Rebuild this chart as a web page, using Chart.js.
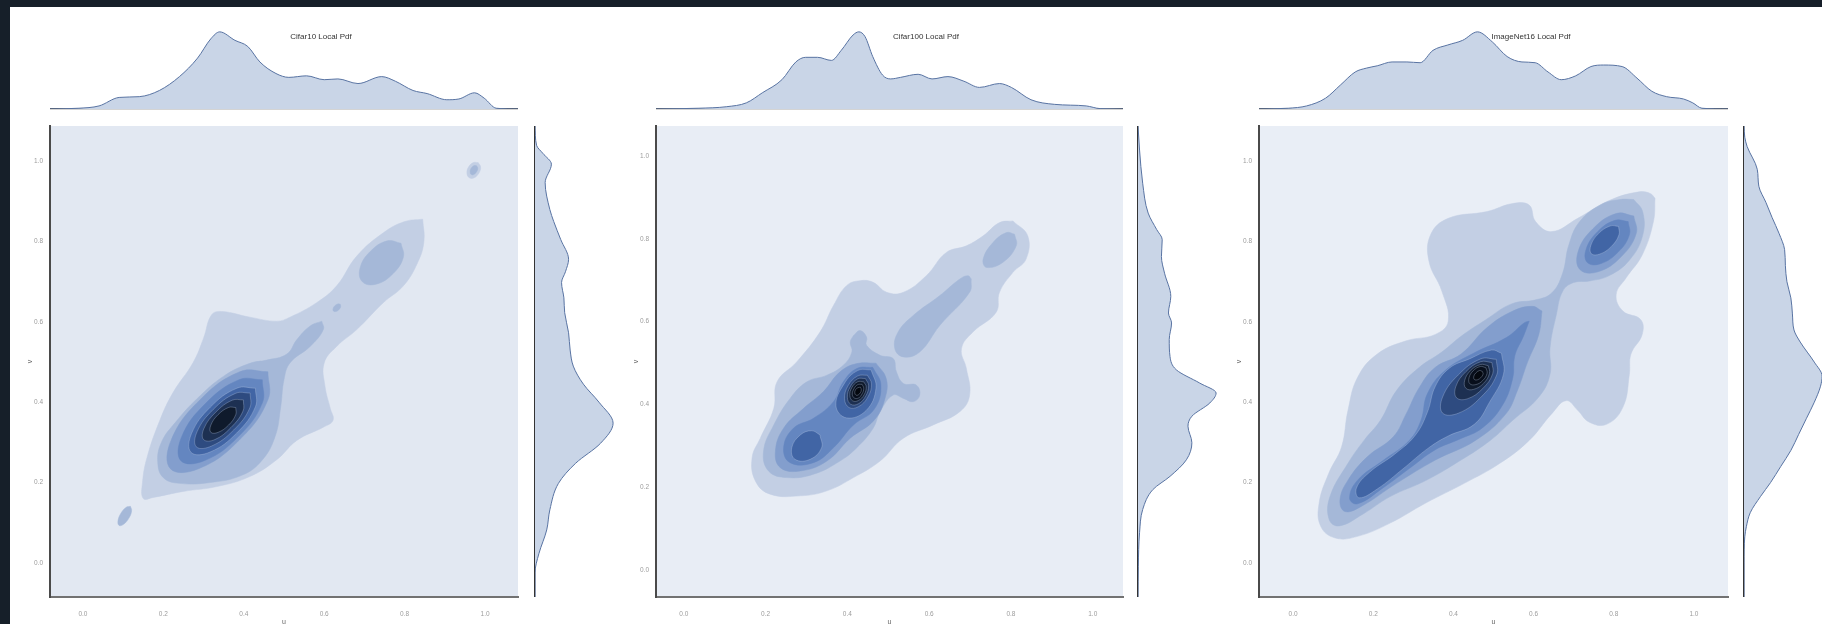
<!DOCTYPE html>
<html lang="en">
<head>
<meta charset="utf-8">
<title>Local Pdf</title>
<script src="https://cdn.jsdelivr.net/npm/chart.js@4.4.1/dist/chart.umd.min.js"></script>
<style>
  html, body { margin: 0; padding: 0; }
  body { position: relative; width: 1822px; height: 624px; overflow: hidden; background: #161f29;
         font-family: "Liberation Sans", Arial, sans-serif; }
  #sheet { position: absolute; left: 10px; top: 7px; right: 0; bottom: 0; background: #ffffff; }
  canvas { position: absolute; display: block; }
  .title { position: absolute; top: 37px; transform: translate(-50%, -50%); font-size: 8px; line-height: 1;
           color: #333; white-space: nowrap; z-index: 5; }
</style>
</head>
<body>
<div id="sheet"></div>
<script>
// ---------- shared axis values ----------
const tickValues = [0, 0.2, 0.4, 0.6, 0.8, 1.0];
const tickLabels = ['0.0', '0.2', '0.4', '0.6', '0.8', '1.0'];
const axisNames = ['u', 'v'];

// ---------- Cifar10 ----------
const cifar10Title = 'Cifar10 Local Pdf';
const cifar10URange = [-0.082, 1.082];
const cifar10VRange = [-0.085, 1.088];
// marginal density of u: [u, relative density]
const cifar10TopPdf = [[-0.082,0],[-0.01,0.01],[0.04,0.04],[0.09,0.15],[0.14,0.16],[0.19,0.24],[0.24,0.42],[0.285,0.66],[0.318,0.91],[0.340,1.0],[0.378,0.89],[0.410,0.81],[0.440,0.61],[0.480,0.46],[0.512,0.41],[0.556,0.43],[0.60,0.38],[0.634,0.39],[0.684,0.33],[0.743,0.42],[0.777,0.36],[0.821,0.24],[0.856,0.20],[0.905,0.12],[0.935,0.13],[0.974,0.21],[0.998,0.14],[1.028,0.01],[1.082,0]];
// marginal density of v: [v, relative density]
const cifar10RightPdf = [[-0.085,0],[-0.025,0],[0.023,0.05],[0.082,0.15],[0.132,0.19],[0.198,0.30],[0.248,0.52],[0.298,0.84],[0.348,1.0],[0.40,0.82],[0.445,0.62],[0.49,0.49],[0.53,0.45],[0.573,0.43],[0.623,0.38],[0.66,0.37],[0.698,0.34],[0.725,0.39],[0.756,0.43],[0.805,0.33],[0.85,0.24],[0.88,0.19],[0.947,0.13],[0.993,0.21],[1.02,0.10],[1.04,0.02],[1.088,0]];
// filled density contours: [level, [[u, v], ...]]
const cifar10Rings = [
  [1, [[0.845,0.856],[0.848,0.800],[0.832,0.747],[0.797,0.690],[0.747,0.648],[0.681,0.581],[0.631,0.539],[0.600,0.498],[0.602,0.440],[0.615,0.385],[0.622,0.355],[0.598,0.338],[0.532,0.305],[0.482,0.257],[0.415,0.215],[0.333,0.190],[0.250,0.178],[0.175,0.163],[0.150,0.160],[0.148,0.200],[0.160,0.265],[0.192,0.357],[0.224,0.424],[0.274,0.499],[0.300,0.560],[0.320,0.618],[0.345,0.626],[0.415,0.612],[0.482,0.602],[0.515,0.612],[0.581,0.648],[0.631,0.690],[0.681,0.764],[0.747,0.822],[0.800,0.850]]],
  [1, [[0.983,0.997],[0.971,0.997],[0.959,0.986],[0.955,0.970],[0.961,0.959],[0.973,0.959],[0.985,0.971],[0.989,0.986]]],
  [2, [[0.594,0.602],[0.598,0.581],[0.565,0.539],[0.515,0.498],[0.500,0.456],[0.492,0.390],[0.478,0.315],[0.445,0.255],[0.395,0.218],[0.316,0.200],[0.240,0.198],[0.200,0.212],[0.186,0.250],[0.195,0.300],[0.230,0.350],[0.285,0.410],[0.350,0.465],[0.415,0.497],[0.457,0.505],[0.507,0.520],[0.532,0.556],[0.565,0.590]]],
  [2, [[0.791,0.796],[0.757,0.802],[0.715,0.776],[0.689,0.734],[0.695,0.700],[0.729,0.694],[0.771,0.720],[0.797,0.762]]],
  [2, [[0.640,0.644],[0.634,0.645],[0.626,0.640],[0.622,0.633],[0.623,0.627],[0.629,0.626],[0.636,0.630],[0.641,0.638]]],
  [2, [[0.118,0.141],[0.107,0.138],[0.094,0.123],[0.087,0.104],[0.090,0.093],[0.101,0.096],[0.114,0.111],[0.121,0.130]]],
  [2, [[0.979,0.989],[0.972,0.989],[0.965,0.982],[0.963,0.973],[0.966,0.967],[0.972,0.967],[0.979,0.974],[0.982,0.983]]],
  [3, [[0.460,0.476],[0.390,0.476],[0.290,0.405],[0.219,0.305],[0.218,0.234],[0.289,0.235],[0.389,0.306],[0.460,0.406]]],
  [4, [[0.446,0.456],[0.388,0.456],[0.304,0.396],[0.245,0.313],[0.244,0.254],[0.303,0.255],[0.386,0.314],[0.446,0.398]]],
  [5, [[0.429,0.435],[0.383,0.435],[0.317,0.388],[0.270,0.322],[0.269,0.275],[0.316,0.276],[0.382,0.323],[0.429,0.389]]],
  [6, [[0.416,0.423],[0.379,0.422],[0.324,0.382],[0.284,0.327],[0.282,0.289],[0.320,0.291],[0.375,0.331],[0.415,0.386]]],
  [7, [[0.399,0.406],[0.371,0.405],[0.330,0.375],[0.301,0.335],[0.300,0.307],[0.328,0.307],[0.368,0.337],[0.398,0.378]]],
  [8, [[0.380,0.387],[0.362,0.387],[0.336,0.369],[0.318,0.343],[0.318,0.325],[0.336,0.325],[0.362,0.343],[0.380,0.369]]]
];

// ---------- Cifar100 ----------
const cifar100Title = 'Cifar100 Local Pdf';
const cifar100URange = [-0.068, 1.074];
const cifar100VRange = [-0.064, 1.072];
const cifar100TopPdf = [[-0.068,0],[0.037,0.01],[0.105,0.03],[0.153,0.08],[0.192,0.21],[0.24,0.38],[0.274,0.61],[0.298,0.67],[0.327,0.67],[0.361,0.63],[0.385,0.76],[0.414,0.96],[0.428,1.0],[0.443,0.94],[0.462,0.68],[0.486,0.44],[0.506,0.39],[0.53,0.41],[0.573,0.45],[0.607,0.39],[0.646,0.42],[0.685,0.36],[0.723,0.28],[0.772,0.33],[0.801,0.28],[0.849,0.12],[0.907,0.06],[0.984,0.04],[1.018,0.005],[1.074,0]];
const cifar100RightPdf = [[-0.064,0],[0.01,0.004],[0.091,0.02],[0.147,0.06],[0.195,0.19],[0.227,0.41],[0.267,0.62],[0.308,0.69],[0.348,0.64],[0.372,0.69],[0.404,0.92],[0.428,1.0],[0.452,0.79],[0.484,0.49],[0.516,0.41],[0.557,0.40],[0.597,0.43],[0.621,0.39],[0.661,0.42],[0.717,0.34],[0.757,0.30],[0.798,0.31],[0.822,0.24],[0.862,0.13],[0.934,0.06],[1.014,0.02],[1.072,0]];
const cifar100Rings = [
  [1, [[0.805,0.843],[0.841,0.807],[0.837,0.751],[0.805,0.719],[0.772,0.671],[0.764,0.623],[0.707,0.575],[0.679,0.535],[0.691,0.487],[0.699,0.423],[0.675,0.383],[0.610,0.351],[0.537,0.319],[0.480,0.264],[0.415,0.224],[0.350,0.192],[0.285,0.180],[0.211,0.184],[0.175,0.216],[0.167,0.272],[0.187,0.319],[0.220,0.391],[0.228,0.455],[0.276,0.503],[0.333,0.575],[0.366,0.639],[0.398,0.687],[0.431,0.699],[0.463,0.695],[0.496,0.671],[0.537,0.671],[0.593,0.711],[0.642,0.767],[0.691,0.783],[0.732,0.807],[0.772,0.839]]],
  [2, [[0.809,0.811],[0.813,0.783],[0.780,0.743],[0.740,0.731],[0.732,0.751],[0.756,0.791],[0.789,0.815]]],
  [2, [[0.703,0.703],[0.699,0.671],[0.626,0.591],[0.577,0.527],[0.537,0.515],[0.516,0.535],[0.524,0.575],[0.561,0.615],[0.626,0.663],[0.675,0.703],[0.695,0.711]]],
  [2, [[0.415,0.567],[0.431,0.579],[0.447,0.563],[0.447,0.543],[0.480,0.519],[0.512,0.511],[0.520,0.479],[0.537,0.451],[0.569,0.447],[0.577,0.423],[0.561,0.407],[0.537,0.415],[0.512,0.423],[0.480,0.383],[0.463,0.343],[0.423,0.296],[0.382,0.264],[0.317,0.232],[0.252,0.224],[0.207,0.240],[0.195,0.288],[0.220,0.351],[0.260,0.415],[0.301,0.455],[0.350,0.471],[0.390,0.495],[0.411,0.527],[0.407,0.551]]],
  [3, [[0.470,0.500],[0.495,0.463],[0.492,0.415],[0.465,0.362],[0.407,0.319],[0.350,0.264],[0.285,0.240],[0.236,0.248],[0.224,0.288],[0.244,0.343],[0.293,0.391],[0.341,0.431],[0.382,0.479],[0.423,0.499]]],
  [4, [[0.462,0.490],[0.482,0.447],[0.465,0.388],[0.415,0.351],[0.366,0.296],[0.317,0.260],[0.260,0.260],[0.244,0.296],[0.268,0.343],[0.317,0.367],[0.366,0.407],[0.390,0.455],[0.423,0.487]]],
  [5, [[0.333,0.327],[0.337,0.296],[0.309,0.268],[0.272,0.268],[0.264,0.296],[0.285,0.327],[0.313,0.337]]],
  [5, [[0.458,0.484],[0.470,0.440],[0.446,0.386],[0.398,0.368],[0.372,0.397],[0.392,0.450],[0.425,0.482]]],
  [6, [[0.449,0.471],[0.425,0.469],[0.402,0.446],[0.393,0.414],[0.404,0.393],[0.427,0.395],[0.450,0.418],[0.459,0.450]]],
  [7, [[0.444,0.463],[0.425,0.462],[0.407,0.443],[0.400,0.418],[0.408,0.401],[0.427,0.402],[0.445,0.421],[0.452,0.446]]],
  [8, [[0.440,0.455],[0.425,0.455],[0.411,0.441],[0.406,0.422],[0.413,0.409],[0.427,0.410],[0.441,0.424],[0.446,0.443]]],
  [9, [[0.436,0.449],[0.425,0.448],[0.416,0.438],[0.412,0.425],[0.417,0.416],[0.427,0.416],[0.436,0.426],[0.440,0.439]]],
  [10, [[0.432,0.442],[0.426,0.441],[0.420,0.436],[0.418,0.428],[0.421,0.423],[0.426,0.423],[0.432,0.429],[0.434,0.436]]]
];

// ---------- ImageNet16 ----------
const imagenetTitle = 'ImageNet16 Local Pdf';
const imagenetURange = [-0.085, 1.085];
const imagenetVRange = [-0.085, 1.088];
const imagenetTopPdf = [[-0.085,0],[-0.012,0.01],[0.034,0.04],[0.081,0.14],[0.118,0.31],[0.155,0.48],[0.183,0.53],[0.21,0.56],[0.247,0.61],[0.284,0.61],[0.317,0.60],[0.349,0.76],[0.386,0.83],[0.423,0.89],[0.46,1.0],[0.497,0.87],[0.534,0.68],[0.571,0.61],[0.604,0.60],[0.636,0.48],[0.669,0.38],[0.705,0.43],[0.743,0.55],[0.775,0.57],[0.821,0.55],[0.858,0.40],[0.895,0.23],[0.932,0.16],[0.974,0.13],[0.997,0.08],[1.02,0.01],[1.085,0]];
const imagenetRightPdf = [[-0.085,0],[0.0,0.0],[0.065,0.01],[0.09,0.03],[0.125,0.08],[0.165,0.21],[0.20,0.34],[0.24,0.47],[0.28,0.60],[0.32,0.70],[0.36,0.80],[0.40,0.90],[0.44,0.98],[0.465,1.0],[0.50,0.90],[0.55,0.72],[0.58,0.64],[0.62,0.62],[0.66,0.60],[0.70,0.55],[0.74,0.53],[0.78,0.52],[0.82,0.45],[0.86,0.36],[0.898,0.28],[0.938,0.19],[0.98,0.17],[1.037,0.04],[1.06,0.01],[1.088,0]];
const imagenetRings = [
  [1, [[0.903,0.908],[0.899,0.850],[0.871,0.767],[0.831,0.710],[0.806,0.668],[0.823,0.627],[0.867,0.606],[0.871,0.569],[0.843,0.520],[0.839,0.470],[0.823,0.388],[0.782,0.345],[0.738,0.351],[0.710,0.380],[0.681,0.404],[0.645,0.371],[0.589,0.305],[0.516,0.248],[0.427,0.198],[0.331,0.149],[0.242,0.099],[0.161,0.066],[0.105,0.062],[0.069,0.091],[0.065,0.149],[0.089,0.223],[0.121,0.289],[0.137,0.380],[0.161,0.462],[0.210,0.520],[0.282,0.553],[0.355,0.569],[0.387,0.602],[0.371,0.677],[0.339,0.751],[0.343,0.817],[0.387,0.858],[0.484,0.875],[0.548,0.895],[0.589,0.891],[0.605,0.850],[0.645,0.825],[0.710,0.858],[0.790,0.903],[0.863,0.924],[0.891,0.920]]],
  [2, [[0.850,0.905],[0.872,0.875],[0.872,0.815],[0.840,0.755],[0.790,0.716],[0.740,0.702],[0.700,0.698],[0.673,0.677],[0.657,0.619],[0.641,0.536],[0.641,0.470],[0.613,0.413],[0.548,0.355],[0.492,0.305],[0.419,0.256],[0.331,0.205],[0.242,0.165],[0.175,0.122],[0.115,0.092],[0.090,0.108],[0.092,0.165],[0.137,0.248],[0.177,0.305],[0.218,0.355],[0.258,0.429],[0.315,0.487],[0.371,0.525],[0.420,0.565],[0.480,0.605],[0.545,0.645],[0.605,0.655],[0.645,0.672],[0.672,0.720],[0.688,0.792],[0.715,0.850],[0.770,0.893],[0.815,0.905]]],
  [3, [[0.621,0.627],[0.613,0.569],[0.585,0.500],[0.560,0.430],[0.530,0.370],[0.455,0.305],[0.355,0.256],[0.258,0.198],[0.169,0.140],[0.129,0.128],[0.117,0.157],[0.137,0.206],[0.185,0.264],[0.250,0.314],[0.282,0.371],[0.315,0.437],[0.355,0.487],[0.419,0.520],[0.484,0.586],[0.548,0.627],[0.597,0.639]]],
  [3, [[0.850,0.864],[0.806,0.870],[0.748,0.832],[0.711,0.775],[0.716,0.730],[0.761,0.725],[0.818,0.762],[0.856,0.820]]],
  [4, [[0.589,0.602],[0.575,0.565],[0.553,0.515],[0.548,0.460],[0.522,0.392],[0.472,0.336],[0.415,0.308],[0.355,0.282],[0.290,0.235],[0.226,0.188],[0.161,0.147],[0.141,0.161],[0.161,0.206],[0.226,0.256],[0.290,0.305],[0.319,0.355],[0.335,0.421],[0.378,0.478],[0.450,0.522],[0.532,0.561],[0.577,0.598]]],
  [4, [[0.836,0.850],[0.803,0.853],[0.760,0.825],[0.731,0.781],[0.734,0.748],[0.767,0.745],[0.811,0.774],[0.839,0.817]]],
  [5, [[0.520,0.522],[0.525,0.470],[0.490,0.400],[0.452,0.345],[0.387,0.316],[0.339,0.287],[0.274,0.234],[0.210,0.184],[0.165,0.162],[0.158,0.186],[0.190,0.225],[0.255,0.272],[0.305,0.318],[0.335,0.375],[0.355,0.440],[0.390,0.485],[0.440,0.508],[0.495,0.530]]],
  [5, [[0.812,0.838],[0.791,0.839],[0.762,0.820],[0.743,0.791],[0.744,0.770],[0.765,0.769],[0.794,0.788],[0.813,0.817]]],
  [6, [[0.507,0.507],[0.468,0.508],[0.412,0.468],[0.373,0.413],[0.373,0.373],[0.413,0.373],[0.468,0.412],[0.508,0.468]]],
  [7, [[0.496,0.499],[0.468,0.501],[0.431,0.476],[0.406,0.439],[0.408,0.411],[0.436,0.409],[0.473,0.434],[0.498,0.471]]],
  [8, [[0.487,0.491],[0.468,0.494],[0.443,0.479],[0.428,0.454],[0.431,0.435],[0.450,0.432],[0.475,0.447],[0.490,0.472]]],
  [9, [[0.481,0.486],[0.467,0.489],[0.449,0.478],[0.439,0.461],[0.441,0.446],[0.456,0.444],[0.473,0.454],[0.484,0.472]]],
  [10, [[0.472,0.477],[0.465,0.479],[0.456,0.473],[0.451,0.465],[0.452,0.457],[0.460,0.456],[0.468,0.461],[0.474,0.470]]]
];

// ---------- styling ----------
const levelColors = ['', '#c3cfe4', '#a5b8d8', '#839ecd', '#6486c0', '#4165a5', '#2e4b80', '#1d3052', '#0f1a2c', '#080f1c', '#04080f'];
const plotBg = ['#e2e8f2', '#e8edf5', '#e9eef6'];
const MARGIN_FILL = '#c9d5e7';
const MARGIN_LINE = '#5873a2';
const FONT = '"Liberation Sans", Arial, sans-serif';

const PLOT_TOP = 126, PLOT_H = 471;
const MARGIN_TOP = 28, MARGIN_H = 81, MARGIN_W = 82;
const Y_AXIS_W = 40, X_AXIS_H = 29, PAD_T = 6, PAD_R = 6;

const panelLayout = [
  { left: 50,   width: 468, marginX: 535,  titleX: 321 },
  { left: 656,  width: 467, marginX: 1138, titleX: 926 },
  { left: 1259, width: 469, marginX: 1744, titleX: 1531 }
];

const panels = [
  { title: cifar10Title,  uRange: cifar10URange,  vRange: cifar10VRange,  top: cifar10TopPdf,  right: cifar10RightPdf,  rings: cifar10Rings },
  { title: cifar100Title, uRange: cifar100URange, vRange: cifar100VRange, top: cifar100TopPdf, right: cifar100RightPdf, rings: cifar100Rings },
  { title: imagenetTitle, uRange: imagenetURange, vRange: imagenetVRange, top: imagenetTopPdf, right: imagenetRightPdf, rings: imagenetRings }
];

Chart.defaults.font.family = FONT;

// fills the plotting area with the lowest density shade
const plotBackground = {
  id: 'plotBackground',
  beforeDraw(chart, args, opts) {
    if (!opts || !opts.color) return;
    const { ctx, chartArea: a } = chart;
    ctx.save();
    ctx.fillStyle = opts.color;
    ctx.fillRect(a.left, a.top, a.right - a.left, a.bottom - a.top);
    ctx.restore();
  }
};

function addCanvas(left, top, width, height) {
  const cv = document.createElement('canvas');
  cv.width = width; cv.height = height;
  cv.style.left = left + 'px'; cv.style.top = top + 'px';
  cv.style.width = width + 'px'; cv.style.height = height + 'px';
  document.body.appendChild(cv);
  return cv;
}

function zeroPadding(s) {
  s.paddingLeft = 0; s.paddingRight = 0; s.paddingTop = 0; s.paddingBottom = 0;
}

const baseOptions = () => ({
  responsive: false,
  animation: false,
  devicePixelRatio: 1,
  events: [],
  plugins: { legend: { display: false }, tooltip: { enabled: false } }
});

function mainAxis(horizontal, range, name) {
  return {
    type: 'linear',
    position: horizontal ? 'bottom' : 'left',
    min: range[0], max: range[1],
    afterBuildTicks: s => { s.ticks = tickValues.map(value => ({ value })); },
    grid: { display: false, drawTicks: false },
    border: { display: true, color: horizontal ? '#727272' : '#4a4a4a', width: 2 },
    ticks: {
      autoSkip: false, maxRotation: 0, padding: horizontal ? 13 : 7,
      color: '#9c9c9c', font: { size: 6.5 },
      callback: (v, i) => tickLabels[i]
    },
    title: {
      display: true, text: name, color: '#666', font: { size: 7 },
      padding: horizontal ? { top: 0, bottom: 0 } : { top: 16, bottom: 0 }
    },
    afterFit: s => {
      if (horizontal) s.height = X_AXIS_H; else s.width = Y_AXIS_W;
      zeroPadding(s);
    }
  };
}

function ringDatasets(rings) {
  return rings.map(([lv, pts]) => ({
    data: pts.concat([pts[0]]).map(([x, y]) => ({ x, y })),
    fill: 'shape',
    backgroundColor: levelColors[lv],
    borderColor: lv >= 5 ? 'rgba(188,204,230,0.45)' : levelColors[lv],
    borderWidth: lv >= 5 ? 0.7 : 0.5,
    pointRadius: 0,
    pointHoverRadius: 0,
    tension: 0.42,
    order: 20 - lv
  }));
}

function drawMain(p, L, bg) {
  const cv = addCanvas(L.left - Y_AXIS_W, PLOT_TOP - PAD_T, Y_AXIS_W + L.width + PAD_R, PAD_T + PLOT_H + X_AXIS_H);
  const opts = baseOptions();
  opts.layout = { padding: { top: PAD_T, right: PAD_R, left: 0, bottom: 0 } };
  opts.plugins.plotBackground = { color: bg };
  opts.scales = {
    x: mainAxis(true, p.uRange, axisNames[0]),
    y: mainAxis(false, p.vRange, axisNames[1])
  };
  new Chart(cv, { type: 'line', data: { datasets: ringDatasets(p.rings) }, options: opts, plugins: [plotBackground] });
}

function drawTopMargin(p, L) {
  const cv = addCanvas(L.left, MARGIN_TOP, L.width, MARGIN_H + 2);
  const opts = baseOptions();
  opts.layout = { padding: 0 };
  opts.scales = {
    x: {
      type: 'linear', min: p.uRange[0], max: p.uRange[1],
      grid: { display: false, drawTicks: false },
      ticks: { display: false },
      border: { display: true, color: '#555', width: 1.3 },
      afterFit: s => { s.height = 2; zeroPadding(s); }
    },
    y: { type: 'linear', display: false, min: 0, max: 1.05 }
  };
  new Chart(cv, {
    type: 'line',
    data: { datasets: [{
      data: p.top.map(([x, y]) => ({ x, y })),
      fill: 'origin', backgroundColor: MARGIN_FILL, borderColor: MARGIN_LINE, borderWidth: 1,
      pointRadius: 0, cubicInterpolationMode: 'monotone'
    }] },
    options: opts
  });
}

function drawRightMargin(p, L) {
  const cv = addCanvas(L.marginX - 2, PLOT_TOP, 2 + MARGIN_W, PLOT_H);
  const opts = baseOptions();
  opts.indexAxis = 'y';
  opts.layout = { padding: 0 };
  opts.scales = {
    y: {
      type: 'linear', position: 'left', min: p.vRange[0], max: p.vRange[1],
      grid: { display: false, drawTicks: false },
      ticks: { display: false },
      border: { display: true, color: '#333', width: 1.3 },
      afterFit: s => { s.width = 2; zeroPadding(s); }
    },
    x: { type: 'linear', display: false, min: 0, max: 1.05 }
  };
  new Chart(cv, {
    type: 'line',
    data: { datasets: [{
      data: p.right.map(([v, d]) => ({ x: d, y: v })),
      fill: 'origin', backgroundColor: MARGIN_FILL, borderColor: MARGIN_LINE, borderWidth: 1,
      pointRadius: 0, cubicInterpolationMode: 'monotone'
    }] },
    options: opts
  });
}

function drawTitle(p, L) {
  const t = document.createElement('div');
  t.className = 'title';
  t.style.left = L.titleX + 'px';
  t.textContent = p.title;
  document.body.appendChild(t);
}

panels.forEach((p, i) => {
  const L = panelLayout[i];
  drawTopMargin(p, L);
  drawMain(p, L, plotBg[i]);
  drawRightMargin(p, L);
  drawTitle(p, L);
});
</script>
</body>
</html>
